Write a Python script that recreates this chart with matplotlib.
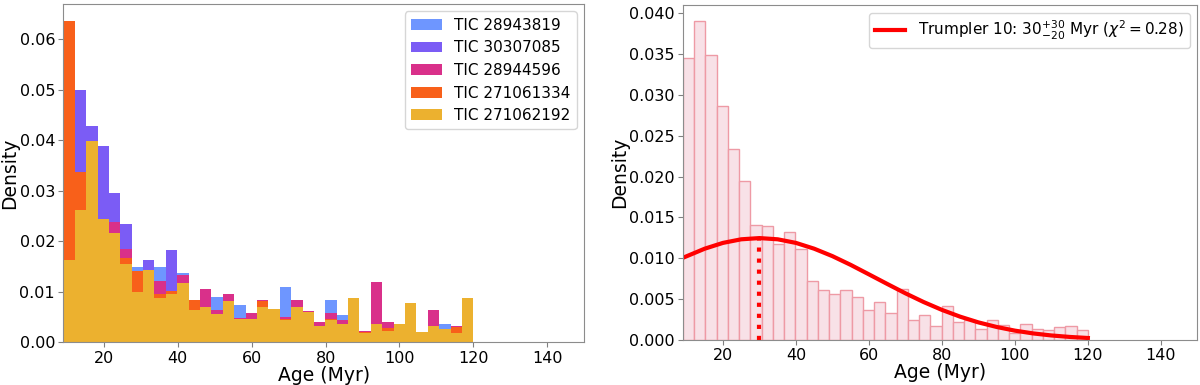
import numpy as np
import matplotlib
matplotlib.use('Agg')
import matplotlib.pyplot as plt

# bins shared by both panels (Myr)
age_min = 9.0
age_max = 120.0
n_bins = 36

# left panel: density per bin for each star
tic_names = ['TIC 28943819', 'TIC 30307085', 'TIC 28944596', 'TIC 271061334', 'TIC 271062192']
tic_colors = ['#6E96FF', '#7B5CF5', '#D9308A', '#F8601A', '#ECB12F']

dens_28943819 = [0.016, 0.030, 0.035, 0.030, 0.022, 0.018, 0.0150, 0.012, 0.0150, 0.010, 0.0138, 0.006,
                 0.007, 0.0090, 0.007, 0.0073, 0.004, 0.006, 0.005, 0.0109, 0.006, 0.005, 0.003, 0.0084,
                 0.0054, 0.006, 0.0023, 0.003, 0.002, 0.003, 0.005, 0.0015, 0.003, 0.0036, 0.002, 0.006]
dens_30307085 = [0.015, 0.0500, 0.0428, 0.0388, 0.0295, 0.0234, 0.013, 0.0163, 0.011, 0.0183, 0.012, 0.006,
                 0.008, 0.006, 0.007, 0.004, 0.005, 0.006, 0.006, 0.004, 0.006, 0.005, 0.003, 0.005,
                 0.004, 0.007, 0.002, 0.004, 0.003, 0.003, 0.005, 0.002, 0.003, 0.002, 0.002, 0.006]
dens_28944596 = [0.020, 0.030, 0.035, 0.022, 0.0238, 0.0184, 0.012, 0.012, 0.0121, 0.0095, 0.0133, 0.007,
                 0.0105, 0.0064, 0.0095, 0.0049, 0.0057, 0.0084, 0.005, 0.0050, 0.0084, 0.0061, 0.0040, 0.0057,
                 0.0044, 0.007, 0.0022, 0.0119, 0.0040, 0.003, 0.006, 0.0015, 0.0064, 0.002, 0.0033, 0.007]
dens_271061334 = [0.0637, 0.0337, 0.0300, 0.0200, 0.0180, 0.0166, 0.0142, 0.0120, 0.0095, 0.0102, 0.0090, 0.0084,
                  0.0060, 0.0050, 0.0070, 0.0040, 0.0040, 0.0081, 0.0055, 0.0047, 0.0060, 0.0050, 0.0030, 0.0046,
                  0.0030, 0.0070, 0.0021, 0.0030, 0.0028, 0.0030, 0.0060, 0.0020, 0.0030, 0.0020, 0.0031, 0.0070]
dens_271062192 = [0.0162, 0.0262, 0.0398, 0.0244, 0.0217, 0.0155, 0.0100, 0.0144, 0.0088, 0.0096, 0.0117, 0.0063,
                  0.0069, 0.0055, 0.0081, 0.0047, 0.0047, 0.0069, 0.0065, 0.0044, 0.0069, 0.0059, 0.0032, 0.0044,
                  0.0036, 0.0087, 0.0019, 0.0036, 0.0022, 0.0036, 0.0077, 0.0021, 0.0032, 0.0026, 0.0018, 0.0087]

# right panel: combined cluster histogram and fitted age curve
trumpler_dens = [0.0345, 0.0390, 0.0349, 0.0286, 0.0234, 0.0194, 0.0141, 0.0140, 0.0118, 0.0132, 0.0111, 0.0072,
                 0.0061, 0.0056, 0.0061, 0.0053, 0.0037, 0.0047, 0.0033, 0.0062, 0.0025, 0.0031, 0.0017, 0.0041,
                 0.0022, 0.0025, 0.0013, 0.0025, 0.0018, 0.0009, 0.0020, 0.0013, 0.0012, 0.0016, 0.0017, 0.0012]
fit_age = [9, 15, 20, 25, 30, 35, 40, 45, 50, 55, 60, 65, 70, 75, 80, 85, 90, 95, 100, 105, 110, 115, 120]
fit_dens = [0.01005, 0.01117, 0.01188, 0.01232, 0.01247, 0.01232, 0.01188, 0.01117, 0.01026, 0.00919,
            0.00803, 0.00686, 0.00571, 0.00464, 0.00368, 0.00285, 0.00215, 0.00159, 0.00114, 0.00080,
            0.00055, 0.00037, 0.00024]
best_age = 30
best_dens = 0.01247
fit_label = r'Trumpler 10: $30^{+30}_{-20}$ Myr ($\chi^2 = 0.28$)'

edges = np.linspace(age_min, age_max, n_bins + 1)

fig = plt.figure(figsize=(12, 3.85), dpi=100)
ax1 = fig.add_axes([0.0528, 0.111, 0.434, 0.879])
ax2 = fig.add_axes([0.569, 0.117, 0.4288, 0.870])

all_dens = [dens_28943819, dens_30307085, dens_28944596, dens_271061334, dens_271062192]
for name, col, d in zip(tic_names, tic_colors, all_dens):
    ax1.stairs(d, edges, fill=True, color=col, label=name, linewidth=0.8)

ax2.bar(edges[:-1], trumpler_dens, width=np.diff(edges), align='edge',
        facecolor='#F8E1E7', edgecolor='#EE9AA5', linewidth=1)
ax2.plot(fit_age, fit_dens, color='red', linewidth=3, label=fit_label)
ax2.vlines(best_age, 0, best_dens, color='red', linewidth=3, linestyles=':')

for ax in (ax1, ax2):
    ax.set_xlim(age_min, 150)
    ax.set_xticks([20, 40, 60, 80, 100, 120, 140])
    ax.set_xlabel('Age (Myr)', fontsize=13.5, labelpad=0)
    ax.set_ylabel('Density', fontsize=13.5, labelpad=0)
    ax.tick_params(labelsize=11.5, color='0.5', pad=2.5)
    for s in ax.spines.values():
        s.set_color('0.55')
    ax.legend(loc='upper right', fontsize=11)

ax1.set_ylim(0, 0.067)
ax1.set_yticks([0, 0.01, 0.02, 0.03, 0.04, 0.05, 0.06])
ax2.set_ylim(0, 0.041)

fig.savefig('out.png', dpi=100)
